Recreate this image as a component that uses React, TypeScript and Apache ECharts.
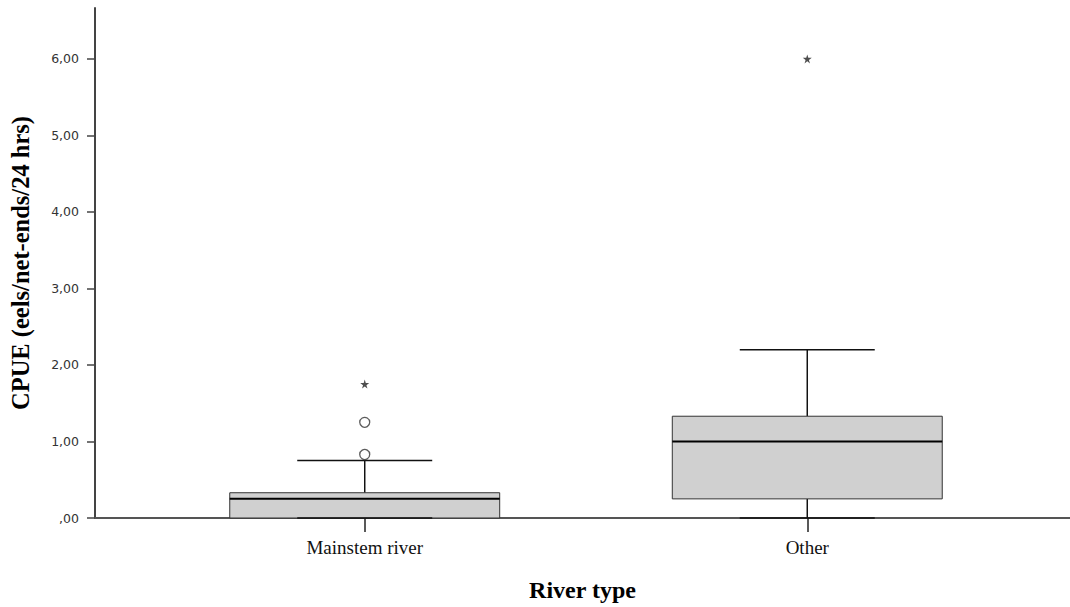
import React, { useEffect, useRef } from "react";
import * as echarts from "echarts";

const categories = ["Mainstem river", "Other"];
// [lowerWhisker, Q1, median, Q3, upperWhisker]
const boxStats = [
  [0, 0, 0.25, 0.33, 0.75],
  [0, 0.25, 1.0, 1.33, 2.2],
];
const outliers = [
  [0, 0.83],
  [0, 1.25],
];
const extremes = [
  [0, 1.75],
  [1, 6.0],
];
const yTicks = [0, 1, 2, 3, 4, 5, 6];

const STAR =
  "path://M50,0 L61,35 L98,35 L68,57 L79,91 L50,70 L21,91 L32,57 L2,35 L39,35 Z";

export default function App() {
  const ref = useRef<HTMLDivElement>(null);
  useEffect(() => {
    if (!ref.current) return;
    const chart = echarts.init(ref.current, null, { renderer: "svg" });
    const boxW = 0.61;
    const capW = 0.305;
    chart.setOption({
      animation: false,
      grid: { left: 94, right: 0, top: 8, bottom: 88 },
      xAxis: {
        type: "value",
        min: -0.6095,
        max: 1.5937,
        name: "River type",
        nameLocation: "middle",
        nameGap: 60,
        nameTextStyle: {
          fontFamily: "Liberation Serif",
          fontWeight: "bold",
          fontSize: 24,
          color: "#000",
        },
        splitLine: { show: false },
        axisLine: { show: true, onZero: false, lineStyle: { color: "#555", width: 2 } },
        axisTick: {
          show: true,
          customValues: [0, 1],
          length: 14,
          lineStyle: { color: "#222", width: 1.5 },
        },
        axisLabel: {
          customValues: [0, 1],
          margin: 20,
          formatter: (v: number) => categories[Math.round(v)] ?? "",
          fontFamily: "Liberation Serif",
          fontSize: 19,
          color: "#111",
        },
      },
      yAxis: {
        type: "value",
        min: 0,
        max: 6.665,
        name: "CPUE (eels/net-ends/24 hrs)",
        nameLocation: "middle",
        nameGap: 62,
        nameTextStyle: {
          fontFamily: "Liberation Serif",
          fontWeight: "bold",
          fontSize: 24.5,
          color: "#000",
        },
        splitLine: { show: false },
        axisLine: { show: true, onZero: false, lineStyle: { color: "#444", width: 2 } },
        axisTick: {
          show: true,
          customValues: yTicks,
          length: 8,
          lineStyle: { color: "#444", width: 1.5 },
        },
        axisLabel: {
          customValues: yTicks,
          margin: 16,
          formatter: (v: number) =>
            v === 0 ? ",00" : v.toFixed(2).replace(".", ","),
          fontFamily: "DejaVu Sans",
          fontSize: 12.5,
          color: "#333",
        },
      },
      series: [
        {
          type: "custom",
          data: boxStats.map((s, i) => [i, ...s]),
          renderItem: (params: any, api: any) => {
            const x = api.value(0);
            const lo = api.value(1);
            const q1 = api.value(2);
            const med = api.value(3);
            const q3 = api.value(4);
            const hi = api.value(5);
            const pLo = api.coord([x, lo]);
            const pQ1 = api.coord([x, q1]);
            const pMed = api.coord([x, med]);
            const pQ3 = api.coord([x, q3]);
            const pHi = api.coord([x, hi]);
            const bw = api.size([boxW, 0])[0];
            const cw = api.size([capW, 0])[0];
            const cx = pMed[0];
            const ls = { stroke: "#111", lineWidth: 1.5 };
            return {
              type: "group",
              children: [
                { type: "line", shape: { x1: cx, y1: pQ3[1], x2: cx, y2: pHi[1] }, style: ls },
                { type: "line", shape: { x1: cx, y1: pLo[1], x2: cx, y2: pQ1[1] }, style: ls },
                { type: "line", shape: { x1: cx - cw / 2, y1: pHi[1], x2: cx + cw / 2, y2: pHi[1] }, style: ls },
                {
                  type: "rect",
                  shape: { x: cx - bw / 2, y: pQ3[1], width: bw, height: pQ1[1] - pQ3[1] },
                  style: { fill: "#d0d0d0", stroke: "#333", lineWidth: 1 },
                },
                { type: "line", shape: { x1: cx - bw / 2, y1: pMed[1], x2: cx + bw / 2, y2: pMed[1] }, style: { stroke: "#000", lineWidth: 2 } },
                { type: "line", shape: { x1: cx - cw / 2, y1: pLo[1], x2: cx + cw / 2, y2: pLo[1] }, style: ls },
              ],
            };
          },
          z: 3,
        },
        {
          type: "scatter",
          data: outliers,
          symbol: "circle",
          symbolSize: 10,
          itemStyle: { color: "#fff", borderColor: "#333", borderWidth: 1.3 },
          z: 4,
        },
        {
          type: "scatter",
          data: extremes,
          symbol: STAR,
          symbolSize: 9,
          itemStyle: { color: "#222" },
          z: 4,
        },
      ],
    });
    return () => chart.dispose();
  }, []);
  return (
    <div
      ref={ref}
      style={{ position: "absolute", left: 0, top: 0, width: 1070, height: 607 }}
    />
  );
}
